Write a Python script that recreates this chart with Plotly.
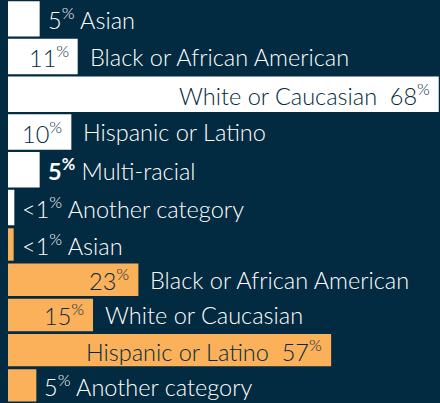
import plotly.graph_objects as go

# ---- data ----
white_cats = ["Asian", "Black or African American", "White or Caucasian",
              "Hispanic or Latino", "Multi-racial", "Another category"]
white_vals = [5, 11, 68, 10, 5, 1]
white_pct = ["5", "11", "68", "10", "5", "&lt;1"]

orange_cats = ["Asian", "Black or African American", "White or Caucasian",
               "Hispanic or Latino", "Another category"]
orange_vals = [1, 23, 15, 57, 5]
orange_pct = ["&lt;1", "23", "15", "57", "5"]

BG = "#022a40"
WHITE = "#ffffff"
ORANGE = "#fbb05a"
FONT = "Lato"
FS = 23.5
FW = 300

fig = go.Figure()
fig.add_trace(go.Bar(y=list(range(len(white_cats))), x=white_vals, orientation="h",
                     marker=dict(color=WHITE, line=dict(width=0)), width=0.94,
                     xaxis="x", yaxis="y", hoverinfo="skip"))
fig.add_trace(go.Bar(y=list(range(len(orange_cats))), x=orange_vals, orientation="h",
                     marker=dict(color=ORANGE, line=dict(width=0)), width=0.92,
                     xaxis="x2", yaxis="y2", hoverinfo="skip"))

annotations = []


def font(color):
    return dict(color=color, size=FS, family=FONT, weight=FW)


def add_labels(cats, vals, pcts, xref, yref, bold_idx=None):
    for i, (c, v, p) in enumerate(zip(cats, vals, pcts)):
        pct = f"{p}<sup>%</sup>"
        if bold_idx is not None and i == bold_idx:
            pct = f"<b>{pct}</b>"
        if v >= 50:
            annotations.append(dict(x=v, y=i, xref=xref, yref=yref, xanchor="right",
                                    yanchor="middle", xshift=-7, showarrow=False,
                                    text=f"{c}  {pct}", font=font(BG)))
        elif v >= 10:
            annotations.append(dict(x=v, y=i, xref=xref, yref=yref, xanchor="right",
                                    yanchor="middle", xshift=-7, showarrow=False,
                                    text=pct, font=font(BG)))
            annotations.append(dict(x=v, y=i, xref=xref, yref=yref, xanchor="left",
                                    yanchor="middle", xshift=10, showarrow=False,
                                    text=c, font=font(WHITE)))
        else:
            annotations.append(dict(x=v, y=i, xref=xref, yref=yref, xanchor="left",
                                    yanchor="middle", xshift=6, showarrow=False,
                                    text=f"{pct} {c}", font=font(WHITE)))


add_labels(white_cats, white_vals, white_pct, "x", "y", bold_idx=4)
add_labels(orange_cats, orange_vals, orange_pct, "x2", "y2")

ax_common = dict(showgrid=False, zeroline=False, showticklabels=False, showline=False, ticks="")
fig.update_layout(
    width=440, height=403,
    margin=dict(l=8, r=0, t=0, b=0),
    paper_bgcolor=BG, plot_bgcolor=BG,
    showlegend=False,
    xaxis=dict(domain=[0, 1], range=[0, 68.2], anchor="y", **ax_common),
    yaxis=dict(domain=[0.4385, 1], range=[5.5, -0.5], anchor="x", **ax_common),
    xaxis2=dict(domain=[0, 1], range=[0, 76.2], anchor="y2", **ax_common),
    yaxis2=dict(domain=[0, 0.437], range=[4.5, -0.5], anchor="x2", **ax_common),
    annotations=annotations,
)

fig.write_html("out.html", config=dict(displayModeBar=False),
               post_script="document.body.style.margin='0';document.body.style.background='%s';" % BG)
